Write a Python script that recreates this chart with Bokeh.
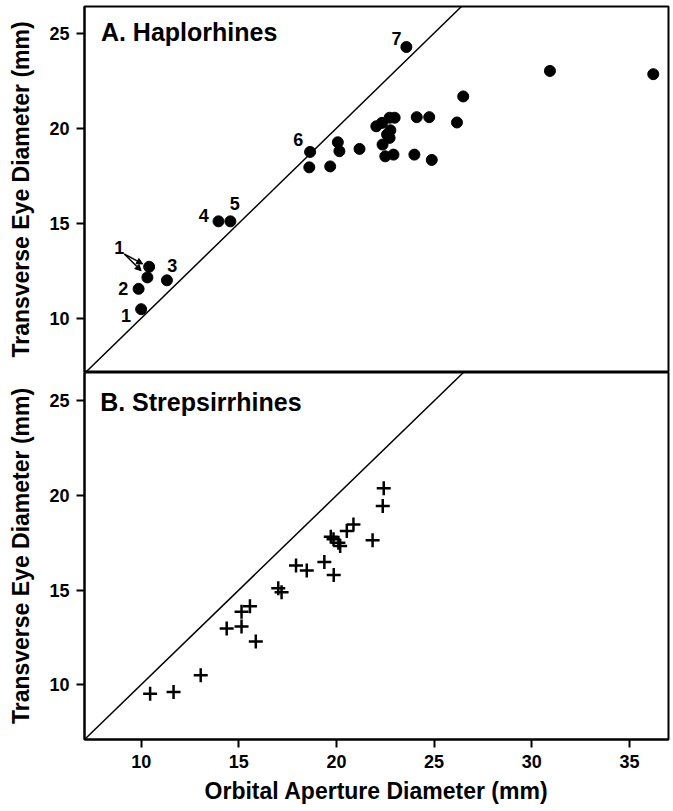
from bokeh.plotting import figure
from bokeh.layouts import column
from bokeh.models import (Range1d, Slope, Label, Arrow, NormalHead,
                          ColumnDataSource, FixedTicker)
from bokeh.embed import file_html
from bokeh.resources import INLINE
from bokeh.core.properties import value

FONT = "Liberation Sans"

# ---------------- data ----------------
# A. Haplorhines (orbital aperture diameter, transverse eye diameter), mm
hap_x = [10.0, 9.87, 10.32, 10.41, 11.32, 13.96, 14.57, 18.65, 18.61, 19.68,
         20.07, 20.15, 21.18, 22.04, 22.33, 22.76, 22.59, 22.72, 22.36, 22.5,
         22.92, 23.99, 24.88, 22.72, 22.98, 24.11, 24.75, 26.17, 26.49, 23.58,
         30.93, 36.22]
hap_y = [10.48, 11.55, 12.15, 12.71, 12.0, 15.1, 15.1, 18.75, 17.94, 17.99,
         19.26, 18.79, 18.91, 20.1, 20.28, 19.89, 19.67, 19.49, 19.14, 18.52,
         18.61, 18.61, 18.33, 20.55, 20.55, 20.58, 20.58, 20.3, 21.67, 24.27,
         23.01, 22.84]

# B. Strepsirrhines
str_x = [10.46, 11.66, 13.05, 14.38, 15.14, 15.14, 15.57, 15.87, 17.02, 17.19,
         17.93, 18.48, 19.38, 19.86, 19.71, 19.85, 20.1, 20.19, 20.53, 20.87,
         21.85, 22.42, 22.37]
str_y = [9.52, 9.61, 10.49, 12.97, 13.07, 13.85, 14.15, 12.28, 15.1, 14.89,
         16.3, 16.04, 16.48, 15.79, 17.82, 17.68, 17.5, 17.33, 18.12, 18.47,
         17.63, 20.38, 19.44]

# point labels in panel A
lab_text = ["1", "2", "1", "3", "4", "5", "6", "7"]
lab_x = [9.23, 9.09, 8.88, 11.59, 13.2, 14.79, 18.05, 23.07]
lab_y = [10.16, 11.55, 13.7, 12.8, 15.39, 16.02, 19.4, 24.74]

# arrows from the upper "1" label to its two points
arr_x0 = [9.14, 9.14]
arr_y0 = [13.38, 13.38]
arr_x1 = [10.08, 10.0]
arr_y1 = [12.86, 12.5]

y_ticks = [10, 15, 20, 25]
x_ticks = [10, 15, 20, 25, 30, 35]
x_lim = (7.1, 37.0)
ya_lim = (7.15, 26.4)
yb_lim = (7.1, 26.5)

panel_a_title = "A. Haplorhines"
panel_b_title = "B. Strepsirrhines"
y_title = "Transverse Eye Diameter (mm)"
x_title = "Orbital Aperture Diameter (mm)"


def style(p):
    p.outline_line_color = "black"
    p.outline_line_width = 2
    p.xgrid.visible = False
    p.ygrid.visible = False
    p.background_fill_color = "white"
    p.border_fill_color = "white"
    for ax in p.yaxis:
        ax.ticker = FixedTicker(ticks=y_ticks)
        ax.minor_tick_line_color = None
        ax.major_tick_in = 0
        ax.major_tick_out = 8
        ax.major_tick_line_width = 2
        ax.axis_line_width = 2
        ax.major_label_text_font = FONT
        ax.major_label_text_font_style = "bold"
        ax.major_label_text_font_size = "18px"
        ax.major_label_text_color = "black"
        ax.major_label_standoff = 7
        ax.axis_label = y_title
        ax.axis_label_text_font = FONT
        ax.axis_label_text_font_style = "bold"
        ax.axis_label_text_font_size = "23px"
        ax.axis_label_text_color = "black"
        ax.axis_label_standoff = 12
    p.add_layout(Slope(gradient=1, y_intercept=0, line_color="black",
                       line_width=1.5))


# ---------------- panel A ----------------
pa = figure(width=670, height=372, x_range=Range1d(*x_lim),
            y_range=Range1d(*ya_lim), output_backend="svg",
            toolbar_location=None, x_axis_location=None,
            min_border_left=84, min_border_right=2, min_border_top=6,
            min_border_bottom=0)
style(pa)
pa.scatter(hap_x, hap_y, marker="circle", size=11, fill_color="black",
           line_color="black")
src = ColumnDataSource(dict(x=lab_x, y=lab_y, t=lab_text))
pa.text(x="x", y="y", text="t", source=src, text_font=value(FONT),
        text_font_style="bold", text_font_size="18px", text_align="center",
        text_baseline="middle", text_color="black")
for i in range(len(arr_x0)):
    pa.add_layout(Arrow(end=NormalHead(size=6, fill_color="black",
                                       line_color="black", line_width=1),
                        x_start=arr_x0[i], y_start=arr_y0[i],
                        x_end=arr_x1[i], y_end=arr_y1[i],
                        line_width=1.5, line_color="black"))
pa.add_layout(Label(x=7.94, y=25.06, text=panel_a_title, text_font=FONT,
                    text_font_style="bold", text_font_size="25px",
                    text_baseline="middle", text_color="black"))

# ---------------- panel B ----------------
pb = figure(width=670, height=436, x_range=pa.x_range,
            y_range=Range1d(*yb_lim), output_backend="svg",
            toolbar_location=None,
            min_border_left=84, min_border_right=2, min_border_top=0,
            min_border_bottom=69)
style(pb)
xa = pb.xaxis[0]
xa.ticker = FixedTicker(ticks=x_ticks)
xa.minor_tick_line_color = None
xa.major_tick_in = 0
xa.major_tick_out = 8
xa.major_tick_line_width = 2
xa.axis_line_width = 2
xa.major_label_text_font = FONT
xa.major_label_text_font_style = "bold"
xa.major_label_text_font_size = "18px"
xa.major_label_text_color = "black"
xa.major_label_standoff = 7
xa.axis_label = x_title
xa.axis_label_text_font = FONT
xa.axis_label_text_font_style = "bold"
xa.axis_label_text_font_size = "23px"
xa.axis_label_text_color = "black"
xa.axis_label_standoff = 7
pb.scatter(str_x, str_y, marker="cross", size=14, line_color="black",
           line_width=2.5)
pb.add_layout(Label(x=7.9, y=24.92, text=panel_b_title, text_font=FONT,
                    text_font_style="bold", text_font_size="25px",
                    text_baseline="middle", text_color="black"))

layout = column(pa, pb, spacing=0)
open("out.html", "w").write(file_html(layout, INLINE))
